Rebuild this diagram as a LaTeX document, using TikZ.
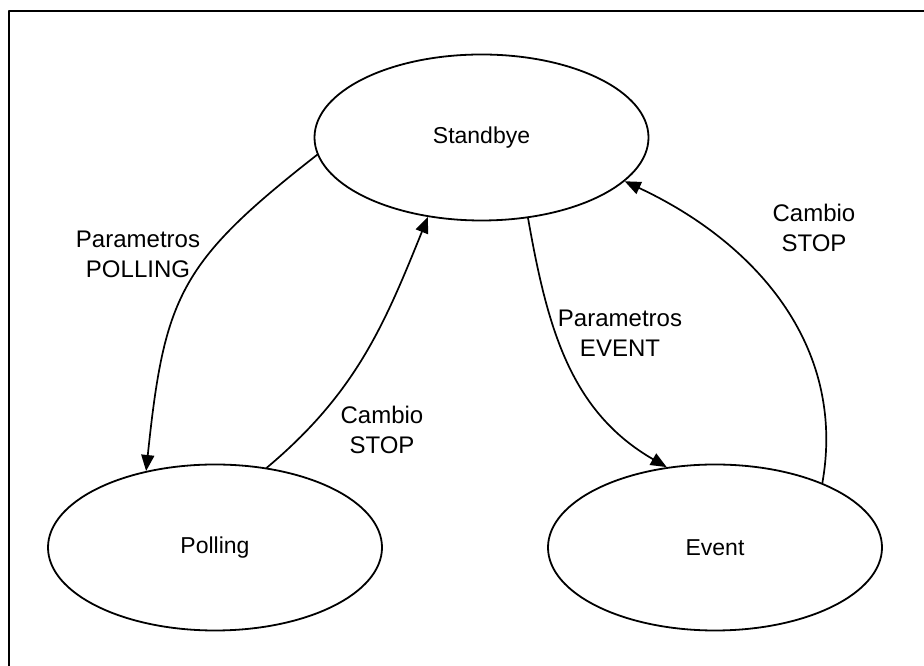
\documentclass[tikz,border=0pt]{standalone}
\usepackage{fontspec}
\setmainfont{Liberation Sans}
\usetikzlibrary{arrows.meta,shapes.geometric}

\begin{document}
\begin{tikzpicture}[line cap=round,line join=round,>={Triangle[length=16pt,width=13pt]},x=1pt,y=1pt,
  estado/.style={draw,ellipse,line width=1.8pt,minimum width=334pt,minimum height=166pt,inner sep=0pt,font=\fontsize{23}{28}\selectfont},
  etiqueta/.style={align=center,font=\fontsize{24}{30}\selectfont},
  trans/.style={->,line width=1.7pt}]
\useasboundingbox (0,0) rectangle (924,666);
\draw [line width=2.2pt] (9,-20) -- (9,655) -- (950,655);
\node[estado] (standbye) at (481.5,528.5) {Standbye};
\node[estado] (polling) at (215,118.5) {Polling};
\node[estado] (event) at (715,118.5) {Event};
\draw [trans] (standbye.186) to[out=218,in=84,looseness=1.25] (polling.132);
\draw [trans] (polling.57) to[out=40,in=248] (standbye.236);
\draw [trans] (standbye.300) to[out=280,in=150] (event.121);
\draw [trans] (event.31) to[out=80,in=335] (standbye.343);
\node[etiqueta] (lpolling) at (138,412) {Parametros\\POLLING};
\node[etiqueta] (lstop1) at (382,236) {Cambio\\STOP};
\node[etiqueta] (levent) at (620,333) {Parametros\\EVENT};
\node[etiqueta] (lstop2) at (814,438) {Cambio\\STOP};
\end{tikzpicture}
\end{document}
